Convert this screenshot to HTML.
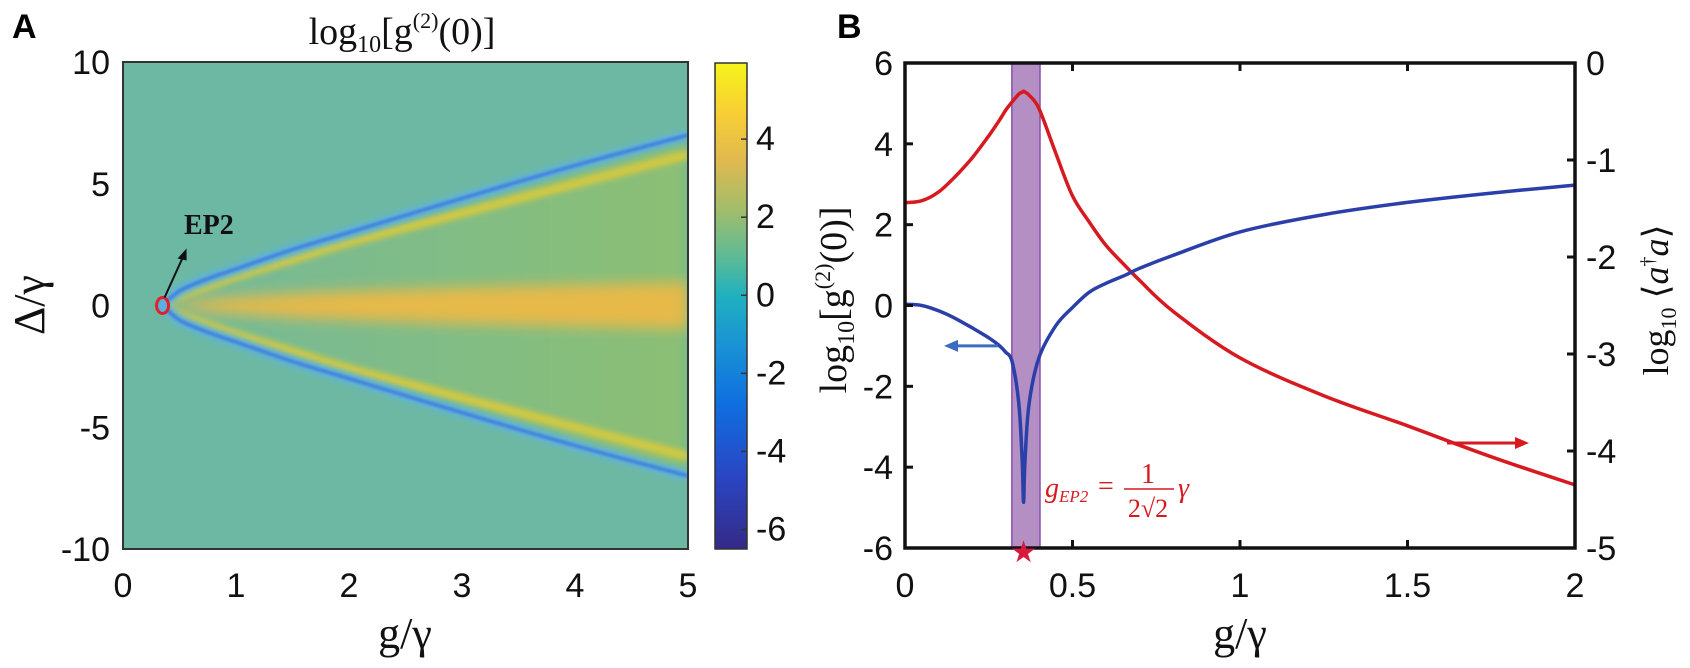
<!DOCTYPE html>
<html><head><meta charset="utf-8"><style>
body{margin:0;background:#fff;}
svg{display:block;}
.tk{font-family:"Liberation Sans",sans-serif;font-size:34px;fill:#111;}
.sr{font-family:"Liberation Serif",serif;fill:#111;}
</style></head><body>
<svg id="fig" width="1690" height="668" viewBox="0 0 1690 668" xmlns="http://www.w3.org/2000/svg">
<defs>
<filter id="blur6" x="-20%" y="-20%" width="140%" height="140%"><feGaussianBlur stdDeviation="7"/></filter>
<filter id="blur3" x="-20%" y="-20%" width="140%" height="140%"><feGaussianBlur stdDeviation="3"/></filter>
<filter id="blur1"><feGaussianBlur stdDeviation="1.2"/></filter>
<linearGradient id="parula" x1="0" y1="1" x2="0" y2="0">
<stop offset="0" stop-color="#352a87"/><stop offset="0.15" stop-color="#2a46c4"/><stop offset="0.3" stop-color="#0f6fe0"/>
<stop offset="0.42" stop-color="#1a93d4"/><stop offset="0.52" stop-color="#1fb0bf"/><stop offset="0.6" stop-color="#5cbb96"/>
<stop offset="0.7" stop-color="#a3bd6a"/><stop offset="0.8" stop-color="#e0b94e"/><stop offset="0.9" stop-color="#f8cf34"/>
<stop offset="1" stop-color="#f5f41a"/></linearGradient>
<linearGradient id="wedge" x1="0" y1="0" x2="1" y2="0">
<stop offset="0" stop-color="#74b99a"/><stop offset="1" stop-color="#8cbf74"/></linearGradient>
<clipPath id="clipA"><rect x="123" y="62" width="565" height="487"/></clipPath>
</defs>
<text x="12" y="38" font-family="Liberation Sans,sans-serif" font-weight="bold" font-size="34">A</text>
<text x="837" y="38" font-family="Liberation Sans,sans-serif" font-weight="bold" font-size="34">B</text>
<text class="sr" x="402" y="44" text-anchor="middle" font-size="38">log<tspan font-size="24" dy="8">10</tspan><tspan dy="-8">[g</tspan><tspan font-size="22" dy="-16">(2)</tspan><tspan dy="16">(0)]</tspan></text>
<g id="heat" clip-path="url(#clipA)"></g>
<rect x="123" y="62" width="565" height="487" fill="none" stroke="#333" stroke-width="2"/>
<g id="axA"></g>
<text class="sr" x="405" y="648" text-anchor="middle" font-size="44">g/γ</text>
<text class="sr" transform="translate(44,305) rotate(-90)" text-anchor="middle" font-size="44">Δ/γ</text>
<rect x="715" y="63" width="32" height="486" fill="url(#parula)" stroke="#333" stroke-width="1.5"/>
<g id="cbax"></g>
<g id="plotB"></g>
</svg>
<script>
// ---------- Panel A data ----------
const aXTicks=[0,1,2,3,4,5];
const aYTicks=[10,5,0,-5,-10];
const branchG=[0.35,0.5,0.75,1,1.5,2,3,4,5];
const blueEdge=[0,0.6,1.1,1.5,2.3,3.0,4.4,5.75,7.0];
const yellowEdge=[0,0.4,0.8,1.2,1.9,2.6,3.8,5.0,6.2];
const centerHalf=[0,0.1,0.25,0.35,0.5,0.6,0.75,0.85,0.95];
const epPoint=[0.35,0];
const cbTicks=[4,2,0,-2,-4,-6];
const cbRange=[-6.5,5.95];
// ---------- Panel B data ----------
const bXTicks=[0,0.5,1,1.5,2];
const bLeftTicks=[6,4,2,0,-2,-4,-6];
const bRightTicks=[0,-1,-2,-3,-4,-5];
const gVals=[0,0.05,0.1,0.15,0.2,0.25,0.28,0.3,0.32,0.34,0.35,0.354,0.358,0.37,0.4,0.45,0.5,0.55,0.6,0.66,0.7,0.8,1.0,1.25,1.5,1.75,2.0];
const g2Vals=[0.03,0.0,-0.13,-0.32,-0.55,-0.8,-0.98,-1.15,-1.4,-2.45,-3.9,-4.87,-3.9,-2.45,-1.29,-0.5,-0.05,0.33,0.55,0.76,0.92,1.24,1.82,2.25,2.55,2.78,2.98];
const nVals=[-1.44,-1.42,-1.33,-1.17,-0.98,-0.75,-0.6,-0.49,-0.4,-0.32,-0.3,-0.29,-0.3,-0.33,-0.47,-0.93,-1.37,-1.64,-1.88,-2.1,-2.24,-2.56,-3.04,-3.43,-3.74,-4.06,-4.35];
const bandRange=[0.319,0.403];
const gEP=0.354;

const NS="http://www.w3.org/2000/svg";
function mk(tag,attrs,parent){const e=document.createElementNS(NS,tag);for(const k in attrs)e.setAttribute(k,attrs[k]);parent.appendChild(e);return e;}
function smooth(pts){
  let d=`M${pts[0][0].toFixed(1)},${pts[0][1].toFixed(1)}`;
  for(let i=0;i<pts.length-1;i++){
    const p0=pts[Math.max(0,i-1)],p1=pts[i],p2=pts[i+1],p3=pts[Math.min(pts.length-1,i+2)];
    const c1=[p1[0]+(p2[0]-p0[0])/6,p1[1]+(p2[1]-p0[1])/6];
    const c2=[p2[0]-(p3[0]-p1[0])/6,p2[1]-(p3[1]-p1[1])/6];
    d+=` C${c1[0].toFixed(1)},${c1[1].toFixed(1)} ${c2[0].toFixed(1)},${c2[1].toFixed(1)} ${p2[0].toFixed(1)},${p2[1].toFixed(1)}`;
  }
  return d;
}
const ax=g=>123+g/5*565, ay=d=>62+(10-d)/20*487;
const cby=v=>549-(v-cbRange[0])/(cbRange[1]-cbRange[0])*486;
const bx=g=>905+g/2*670, byL=v=>63+(6-v)/12*485, byR=v=>63+(0-v)/5*485;

const heat=document.getElementById('heat');
let r=mk('rect',{x:123,y:62,width:565,height:487,fill:'#6cb8a3'},heat);


function branchPts(arr,sign){return arr.map((v,i)=>[ax(branchG[i]),ay(sign*v)]);}
function branchPath(arr,sign){return branchPts(arr,sign).map(p=>`${p[0].toFixed(1)},${p[1].toFixed(1)}`);}
const up=branchPath(blueEdge,1), dn=branchPath(blueEdge,-1).reverse();
let w=mk('polygon',{points:up.concat(dn).join(' '),fill:'url(#wedge)',filter:'url(#blur6)'},heat);


const cu=branchPath(centerHalf,1), cd=branchPath(centerHalf,-1).reverse();
let c=mk('polygon',{points:cu.concat(cd).join(' '),fill:'#e6b948',filter:'url(#blur6)'},heat);


[1,-1].forEach(s=>{
  let yb=mk('path',{d:smooth(branchPts(yellowEdge,s)),fill:'none',stroke:'#d4c940',"stroke-width":9,filter:'url(#blur3)'},heat);
  
  
  let halo=mk('path',{d:smooth(branchPts(blueEdge,s)),fill:'none',stroke:'#5fb3d6',"stroke-width":12,filter:'url(#blur3)'},heat);
  
  
  let bl=mk('path',{d:smooth(branchPts(blueEdge,s)),fill:'none',stroke:'#3f7fe0',"stroke-width":3.5,filter:'url(#blur1)'},heat);
  
  
});
const axA=document.getElementById('axA');
let ep=mk('ellipse',{cx:ax(epPoint[0]),cy:ay(epPoint[1]),rx:6,ry:8,fill:'#5ab0dc',stroke:'#e0202a','stroke-width':3},axA);


let arr=mk('line',{x1:ax(epPoint[0])+2,y1:ay(epPoint[1])-8,x2:ax(epPoint[0])+22,y2:ay(epPoint[1])-52,stroke:'#111','stroke-width':2},axA);


let ah=mk('polygon',{points:`${ax(epPoint[0])+24},${ay(epPoint[1])-57} ${ax(epPoint[0])+15},${ay(epPoint[1])-47} ${ax(epPoint[0])+24},${ay(epPoint[1])-45}`,fill:'#111'},axA);


let ept=mk('text',{x:184,y:234,'font-family':'Liberation Serif,serif','font-weight':'bold','font-size':28,fill:'#111'},axA);
ept.textContent='EP2';


aXTicks.forEach(v=>{
  let t=mk('text',{x:ax(v),y:597,'text-anchor':'middle',class:'tk'},axA);t.textContent=v;
  
  
});
aYTicks.forEach(v=>{
  let t=mk('text',{x:110,y:ay(v)+12,'text-anchor':'end',class:'tk'},axA);t.textContent=v;
  
  
});
const cb=document.getElementById('cbax');
cbTicks.forEach(v=>{
  mk('line',{x1:741,x2:747,y1:cby(v),y2:cby(v),stroke:'#333','stroke-width':1.5},cb);
  let t=mk('text',{x:756,y:cby(v)+11,class:'tk','font-size':30},cb);t.textContent=v;
  
  
});

const B=document.getElementById('plotB');
let band=mk('rect',{x:bx(bandRange[0]),y:63,width:bx(bandRange[1])-bx(bandRange[0]),height:485,fill:'#b48fc4',stroke:'#8a4fb0','stroke-width':1.5},B);


let rl=mk('path',{d:smooth(gVals.map((g,i)=>[bx(g),byR(nVals[i])])),fill:'none',stroke:'#d71920','stroke-width':3.5,'stroke-linejoin':'round'},B);


let bl=mk('path',{d:smooth(gVals.map((g,i)=>[bx(g),byL(g2Vals[i])])),fill:'none',stroke:'#2a3fa8','stroke-width':3.5,'stroke-linejoin':'round'},B);


let fr=mk('rect',{x:905,y:63,width:670,height:485,fill:'none',stroke:'#111','stroke-width':3.5},B);


bXTicks.forEach(v=>{
  mk('line',{x1:bx(v),x2:bx(v),y1:548,y2:540,stroke:'#111','stroke-width':3},B);
  mk('line',{x1:bx(v),x2:bx(v),y1:63,y2:71,stroke:'#111','stroke-width':3},B);
  let t=mk('text',{x:bx(v),y:597,'text-anchor':'middle',class:'tk'},B);t.textContent=v;
  
  
});
bLeftTicks.forEach(v=>{
  mk('line',{x1:905,x2:913,y1:byL(v),y2:byL(v),stroke:'#111','stroke-width':3},B);
  let t=mk('text',{x:893,y:byL(v)+12,'text-anchor':'end',class:'tk'},B);t.textContent=v;
  
  
});
bRightTicks.forEach(v=>{
  mk('line',{x1:1567,x2:1575,y1:byR(v),y2:byR(v),stroke:'#111','stroke-width':3},B);
  let t=mk('text',{x:1586,y:byR(v)+12,class:'tk'},B);t.textContent=v;
  
  
});
let ba=mk('line',{x1:998,y1:byL(-1.0),x2:955,y2:byL(-1.0),stroke:'#3a6cc0','stroke-width':3},B);


mk('polygon',{points:`944,${byL(-1.0)} 958,${byL(-1.0)-6} 958,${byL(-1.0)+6}`,fill:'#3a6cc0'},B);
let ra=mk('line',{x1:1447,y1:443,x2:1518,y2:443,stroke:'#d71920','stroke-width':3},B);


mk('polygon',{points:`1529,443 1515,437 1515,449`,fill:'#d71920'},B);
let st=mk('text',{x:bx(gEP),y:562,'text-anchor':'middle','font-size':30,fill:'#d7193d','font-family':'DejaVu Sans,sans-serif'},B);st.textContent='★';


const F=mk('g',{fill:'#d71920','font-family':'Liberation Serif,serif'},B);


let f1=mk('text',{x:1045,y:497,'font-size':28,'font-style':'italic'},F);f1.innerHTML='g<tspan font-size="17" dy="5">EP2</tspan>';
let f2=mk('text',{x:1098,y:495,'font-size':28},F);f2.textContent='=';
let f3=mk('text',{x:1148,y:483,'font-size':28,'text-anchor':'middle'},F);f3.textContent='1';
mk('line',{x1:1124,x2:1174,y1:489,y2:489,stroke:'#d71920','stroke-width':1.5},F);
let f4=mk('text',{x:1148,y:517,'font-size':26,'text-anchor':'middle'},F);f4.textContent='2√2';
let f5=mk('text',{x:1178,y:497,'font-size':28,'font-style':'italic'},F);f5.textContent='γ';
let xt=mk('text',{x:1240,y:648,'text-anchor':'middle','font-size':44,class:'sr'},B);xt.textContent='g/γ';


let yl=mk('text',{transform:'translate(846,300) rotate(-90)','text-anchor':'middle','font-size':38,class:'sr'},B);
yl.innerHTML='log<tspan font-size="24" dy="8">10</tspan><tspan dy="-8">[g</tspan><tspan font-size="22" dy="-16">(2)</tspan><tspan dy="16">(0)]</tspan>';


let yr=mk('text',{transform:'translate(1668,300) rotate(-90)','text-anchor':'middle','font-size':36,class:'sr',fill:'#222'},B);
yr.innerHTML='log<tspan font-size="22" dy="8">10</tspan><tspan dy="-8"> ⟨</tspan><tspan font-style="italic">a</tspan><tspan font-size="20" dy="-14">†</tspan><tspan font-style="italic" dy="14">a</tspan>⟩';


</script>
</body></html>
